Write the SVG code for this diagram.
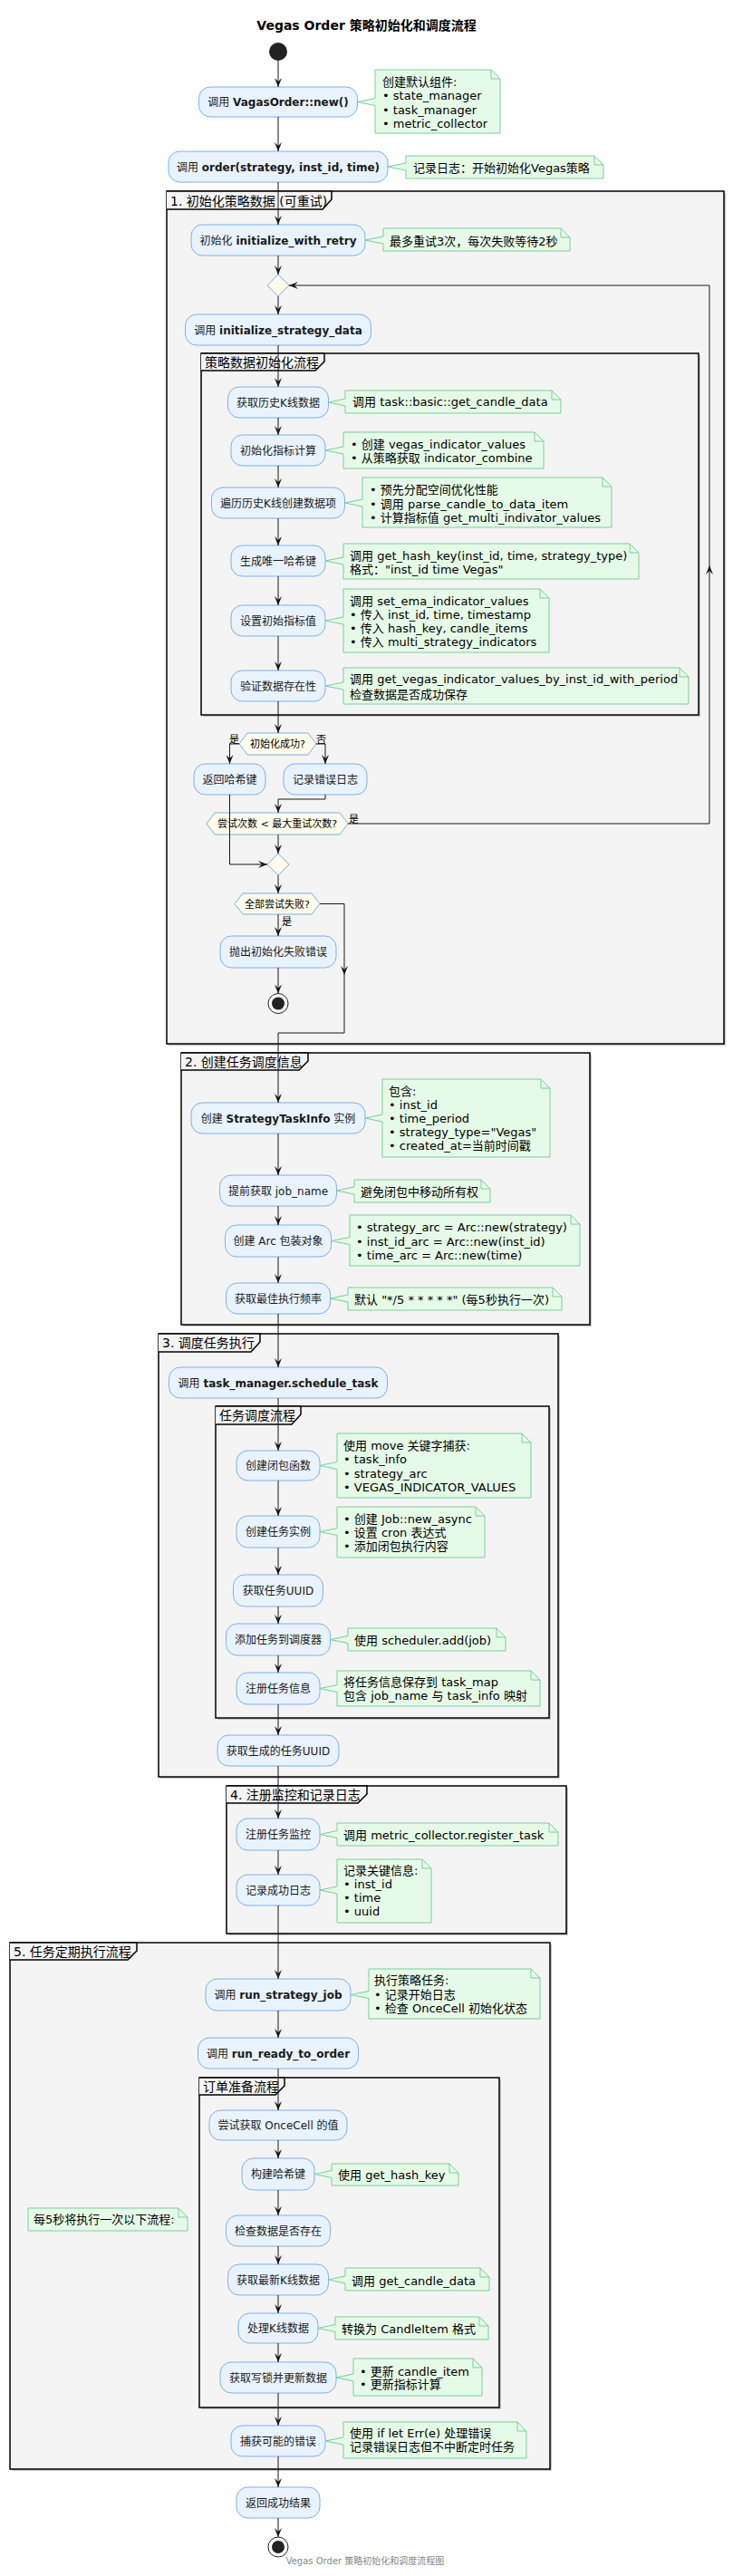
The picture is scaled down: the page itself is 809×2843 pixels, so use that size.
<svg xmlns="http://www.w3.org/2000/svg" width="809" height="2843" viewBox="0 0 809 2843">
<defs>
<style>
text{font-family:"DejaVu Sans","Noto Sans CJK SC",sans-serif;fill:#000}
.title{font-size:14px;font-weight:bold;text-anchor:middle}
.foot{font-size:10px;fill:#888;text-anchor:middle}
.frame{fill:#F4F4F4;stroke:#000;stroke-width:1.5}
.fshadow{fill:#C8C8C8;stroke:none}
.tab{fill:#F4F4F4;stroke:#000;stroke-width:1.5}
.flabel{font-size:14px}
.node{fill:#E8F3FD;stroke:#7EB0EC;stroke-width:1}
.nt{font-size:12px;text-anchor:middle;fill:#1a1a1a}
.note{fill:#E6FBE7;stroke:#7ACF9B;stroke-width:1}
.fold{fill:none;stroke:#7ACF9B;stroke-width:1}
.ntx{font-size:13px}
.dec{fill:#FEFCEA;stroke:#7EB0EC;stroke-width:1}
.dt{font-size:11px;text-anchor:middle}
.lbl{font-size:11px}
.edge{fill:none;stroke:#181818;stroke-width:1}
.ah{fill:#181818}
</style>
<marker id="arr" viewBox="0 0 10 8" refX="10" refY="4" markerWidth="10" markerHeight="8" markerUnits="userSpaceOnUse" orient="auto">
<path d="M0,0 L10,4 L0,8 L4,4 Z" fill="#181818"/>
</marker>
</defs>
<rect width="809" height="2843" fill="#fff"/>
<text class="title" x="404.5" y="33">Vegas Order 策略初始化和调度流程</text>

<g id="frames">
<g id="frame1">
<rect class="fshadow" x="186" y="213" width="615" height="941"/>
<rect class="frame" x="184" y="211" width="615" height="941"/>
<path class="tab" d="M184,211 H366 V220 L356,231 H184"/>
<text class="flabel" x="188" y="226.5">1. 初始化策略数据 (可重试)</text>
</g>
<g id="frame1_inner">
<rect class="fshadow" x="224" y="392" width="549" height="399"/>
<rect class="frame" x="222" y="390" width="549" height="399"/>
<path class="tab" d="M222,390 H358 V399 L348,409 H222"/>
<text class="flabel" x="226" y="404.5">策略数据初始化流程</text>
</g>
<g id="frame2">
<rect class="fshadow" x="202" y="1164" width="451" height="300"/>
<rect class="frame" x="200" y="1162" width="451" height="300"/>
<path class="tab" d="M200,1162 H340 V1171 L330,1181 H200"/>
<text class="flabel" x="204" y="1176.5">2. 创建任务调度信息</text>
</g>
<g id="frame3">
<rect class="fshadow" x="177" y="1474" width="441" height="489"/>
<rect class="frame" x="175" y="1472" width="441" height="489"/>
<path class="tab" d="M175,1472 H287 V1481 L277,1492 H175"/>
<text class="flabel" x="179" y="1487">3. 调度任务执行</text>
</g>
<g id="frame3_inner">
<rect class="fshadow" x="240" y="1554" width="368" height="344"/>
<rect class="frame" x="238" y="1552" width="368" height="344"/>
<path class="tab" d="M238,1552 H332 V1561 L322,1572 H238"/>
<text class="flabel" x="242" y="1567">任务调度流程</text>
</g>
<g id="frame4">
<rect class="fshadow" x="252" y="1973" width="375" height="163"/>
<rect class="frame" x="250" y="1971" width="375" height="163"/>
<path class="tab" d="M250,1971 H405 V1980 L395,1990 H250"/>
<text class="flabel" x="254" y="1985.5">4. 注册监控和记录日志</text>
</g>
<g id="frame5">
<rect class="fshadow" x="13" y="2146" width="596" height="581"/>
<rect class="frame" x="11" y="2144" width="596" height="581"/>
<path class="tab" d="M11,2144 H151 V2153 L141,2163 H11"/>
<text class="flabel" x="15" y="2158.5">5. 任务定期执行流程</text>
</g>
<g id="frame5_inner">
<rect class="fshadow" x="222" y="2295" width="331" height="364"/>
<rect class="frame" x="220" y="2293" width="331" height="364"/>
<path class="tab" d="M220,2293 H314 V2302 L304,2312 H220"/>
<text class="flabel" x="224" y="2307.5">订单准备流程</text>
</g>
</g>

<g id="start"><circle cx="307" cy="57" r="10" fill="#222"/></g>

<g id="nodes">
<g id="A1"><rect class="node" x="219.5" y="96" width="175" height="33" rx="12.5"/><text class="nt" x="307" y="117">调用 <tspan font-weight="bold">VagasOrder::new()</tspan></text></g>
<g id="A2"><rect class="node" x="186" y="167" width="242" height="34" rx="12.5"/><text class="nt" x="307" y="188.5">调用 <tspan font-weight="bold">order(strategy, inst_id, time)</tspan></text></g>
<g id="A3"><rect class="node" x="211" y="248" width="192" height="34" rx="12.5"/><text class="nt" x="307" y="269.5">初始化 <tspan font-weight="bold">initialize_with_retry</tspan></text></g>
<g id="A4"><rect class="node" x="204.5" y="347" width="205" height="34" rx="12.5"/><text class="nt" x="307" y="368.5">调用 <tspan font-weight="bold">initialize_strategy_data</tspan></text></g>
<g id="A5"><rect class="node" x="251.5" y="427" width="111" height="34" rx="12.5"/><text class="nt" x="307" y="448.5">获取历史K线数据</text></g>
<g id="A6"><rect class="node" x="255" y="480" width="104" height="34" rx="12.5"/><text class="nt" x="307" y="501.5">初始化指标计算</text></g>
<g id="A7"><rect class="node" x="233.5" y="538" width="147" height="34" rx="12.5"/><text class="nt" x="307" y="559.5">遍历历史K线创建数据项</text></g>
<g id="A8"><rect class="node" x="255" y="602" width="104" height="34" rx="12.5"/><text class="nt" x="307" y="623.5">生成唯一哈希键</text></g>
<g id="A9"><rect class="node" x="255" y="668" width="104" height="34" rx="12.5"/><text class="nt" x="307" y="689.5">设置初始指标值</text></g>
<g id="A10"><rect class="node" x="255" y="740" width="104" height="34" rx="12.5"/><text class="nt" x="307" y="761.5">验证数据存在性</text></g>
<g id="A11"><rect class="node" x="214" y="843" width="79" height="34" rx="12.5"/><text class="nt" x="253.5" y="864.5">返回哈希键</text></g>
<g id="A12"><rect class="node" x="313" y="843" width="92" height="34" rx="12.5"/><text class="nt" x="359" y="864.5">记录错误日志</text></g>
<g id="A13"><rect class="node" x="243" y="1033" width="128" height="35" rx="12.5"/><text class="nt" x="307" y="1055">抛出初始化失败错误</text></g>
<g id="B1"><rect class="node" x="211" y="1217" width="192" height="34" rx="12.5"/><text class="nt" x="307" y="1238.5">创建 <tspan font-weight="bold">StrategyTaskInfo</tspan> 实例</text></g>
<g id="B2"><rect class="node" x="242.5" y="1297" width="129" height="34" rx="12.5"/><text class="nt" x="307" y="1318.5">提前获取 job_name</text></g>
<g id="B3"><rect class="node" x="248.5" y="1352" width="117" height="35" rx="12.5"/><text class="nt" x="307" y="1374">创建 Arc 包装对象</text></g>
<g id="B4"><rect class="node" x="249.5" y="1416" width="115" height="34" rx="12.5"/><text class="nt" x="307" y="1437.5">获取最佳执行频率</text></g>
<g id="C1"><rect class="node" x="186.5" y="1509" width="241" height="34" rx="12.5"/><text class="nt" x="307" y="1530.5">调用 <tspan font-weight="bold">task_manager.schedule_task</tspan></text></g>
<g id="C2"><rect class="node" x="261" y="1601" width="92" height="33" rx="12.5"/><text class="nt" x="307" y="1622">创建闭包函数</text></g>
<g id="C3"><rect class="node" x="261" y="1673" width="92" height="35" rx="12.5"/><text class="nt" x="307" y="1695">创建任务实例</text></g>
<g id="C4"><rect class="node" x="257.5" y="1738" width="99" height="35" rx="12.5"/><text class="nt" x="307" y="1760">获取任务UUID</text></g>
<g id="C5"><rect class="node" x="249.5" y="1792" width="115" height="35" rx="12.5"/><text class="nt" x="307" y="1814">添加任务到调度器</text></g>
<g id="C6"><rect class="node" x="261" y="1846" width="92" height="35" rx="12.5"/><text class="nt" x="307" y="1868">注册任务信息</text></g>
<g id="C7"><rect class="node" x="240" y="1915" width="134" height="34" rx="12.5"/><text class="nt" x="307" y="1936.5">获取生成的任务UUID</text></g>
<g id="D1"><rect class="node" x="261" y="2007" width="92" height="35" rx="12.5"/><text class="nt" x="307" y="2029">注册任务监控</text></g>
<g id="D2"><rect class="node" x="261" y="2069" width="92" height="34" rx="12.5"/><text class="nt" x="307" y="2090.5">记录成功日志</text></g>
<g id="E1"><rect class="node" x="227" y="2184" width="160" height="35" rx="12.5"/><text class="nt" x="307" y="2206">调用 <tspan font-weight="bold">run_strategy_job</tspan></text></g>
<g id="E2"><rect class="node" x="218.5" y="2249" width="177" height="34" rx="12.5"/><text class="nt" x="307" y="2270.5">调用 <tspan font-weight="bold">run_ready_to_order</tspan></text></g>
<g id="E3"><rect class="node" x="231" y="2329" width="152" height="33" rx="12.5"/><text class="nt" x="307" y="2350">尝试获取 OnceCell 的值</text></g>
<g id="E4"><rect class="node" x="267" y="2382" width="80" height="35" rx="12.5"/><text class="nt" x="307" y="2404">构建哈希键</text></g>
<g id="E5"><rect class="node" x="249.5" y="2445" width="115" height="34" rx="12.5"/><text class="nt" x="307" y="2466.5">检查数据是否存在</text></g>
<g id="E6"><rect class="node" x="251.5" y="2499" width="111" height="34" rx="12.5"/><text class="nt" x="307" y="2520.5">获取最新K线数据</text></g>
<g id="E7"><rect class="node" x="263" y="2553" width="88" height="33" rx="12.5"/><text class="nt" x="307" y="2574">处理K线数据</text></g>
<g id="E8"><rect class="node" x="243" y="2607" width="128" height="34" rx="12.5"/><text class="nt" x="307" y="2628.5">获取写锁并更新数据</text></g>
<g id="E9"><rect class="node" x="255" y="2677" width="104" height="34" rx="12.5"/><text class="nt" x="307" y="2698.5">捕获可能的错误</text></g>
<g id="F1"><rect class="node" x="261" y="2745" width="92" height="34" rx="12.5"/><text class="nt" x="307" y="2766.5">返回成功结果</text></g>
</g>

<g id="decisions">
<g id="M1"><polygon class="dec" points="307,303 319,315 307,327 295,315"/></g>
<g id="H1"><polygon class="dec" points="264,821 273,809 340,809 349,821 340,833 273,833"/><text class="dt" x="306.5" y="825">初始化成功?</text></g>
<g id="H2"><polygon class="dec" points="228,909 237,897 375,897 384,909 375,921 237,921"/><text class="dt" x="306" y="913">尝试次数 &lt; 最大重试次数?</text></g>
<g id="M2"><polygon class="dec" points="307,942 319,954 307,966 295,954"/></g>
<g id="H3"><polygon class="dec" points="259,997.5 268,986 344,986 353,997.5 344,1009 268,1009"/><text class="dt" x="306" y="1001.5">全部尝试失败?</text></g>
</g>

<g id="ends">
<g id="end1"><circle cx="307" cy="1107.5" r="11" fill="#fff" stroke="#222" stroke-width="1"/><circle cx="307" cy="1107.5" r="7" fill="#222"/></g>
<g id="end2"><circle cx="307" cy="2811" r="11" fill="#fff" stroke="#222" stroke-width="1"/><circle cx="307" cy="2811" r="7" fill="#222"/></g>
</g>

<g id="connectors">
<path class="edge" marker-end="url(#arr)" d="M307,67 V96"/>
<path class="edge" marker-end="url(#arr)" d="M307,129 V167"/>
<path class="edge" marker-end="url(#arr)" d="M307,201 V248"/>
<path class="edge" marker-end="url(#arr)" d="M307,282 V303"/>
<path class="edge" marker-end="url(#arr)" d="M384,909 H783 V315 H319"/>
<polygon class="ah" points="779,634 783,624 787,634 783,630"/>
<path class="edge" marker-end="url(#arr)" d="M307,327 V347"/>
<path class="edge" marker-end="url(#arr)" d="M307,381 V427"/>
<path class="edge" marker-end="url(#arr)" d="M307,461 V480"/>
<path class="edge" marker-end="url(#arr)" d="M307,514 V538"/>
<path class="edge" marker-end="url(#arr)" d="M307,572 V602"/>
<path class="edge" marker-end="url(#arr)" d="M307,636 V668"/>
<path class="edge" marker-end="url(#arr)" d="M307,702 V740"/>
<path class="edge" marker-end="url(#arr)" d="M307,774 V809"/>
<path class="edge" marker-end="url(#arr)" d="M264,821 H253.5 V843"/>
<path class="edge" marker-end="url(#arr)" d="M349,821 H359 V843"/>
<path class="edge" marker-end="url(#arr)" d="M359,877 V882 H307 V897"/>
<path class="edge" marker-end="url(#arr)" d="M253.5,877 V954 H295"/>
<path class="edge" marker-end="url(#arr)" d="M307,921 V942"/>
<path class="edge" marker-end="url(#arr)" d="M307,966 V986"/>
<path class="edge" marker-end="url(#arr)" d="M307,1009 V1033"/>
<path class="edge" marker-end="url(#arr)" d="M307,1068 V1096.5"/>
<path class="edge" marker-end="url(#arr)" d="M353,997.5 H380 V1140 H307 V1217"/>
<polygon class="ah" points="376,1066 380,1076 384,1066 380,1070"/>
<path class="edge" marker-end="url(#arr)" d="M307,1251 V1297"/>
<path class="edge" marker-end="url(#arr)" d="M307,1331 V1352"/>
<path class="edge" marker-end="url(#arr)" d="M307,1387 V1416"/>
<path class="edge" marker-end="url(#arr)" d="M307,1450 V1509"/>
<path class="edge" marker-end="url(#arr)" d="M307,1543 V1601"/>
<path class="edge" marker-end="url(#arr)" d="M307,1634 V1673"/>
<path class="edge" marker-end="url(#arr)" d="M307,1708 V1738"/>
<path class="edge" marker-end="url(#arr)" d="M307,1773 V1792"/>
<path class="edge" marker-end="url(#arr)" d="M307,1827 V1846"/>
<path class="edge" marker-end="url(#arr)" d="M307,1881 V1915"/>
<path class="edge" marker-end="url(#arr)" d="M307,1949 V2007"/>
<path class="edge" marker-end="url(#arr)" d="M307,2042 V2069"/>
<path class="edge" marker-end="url(#arr)" d="M307,2103 V2184"/>
<path class="edge" marker-end="url(#arr)" d="M307,2219 V2249"/>
<path class="edge" marker-end="url(#arr)" d="M307,2283 V2329"/>
<path class="edge" marker-end="url(#arr)" d="M307,2362 V2382"/>
<path class="edge" marker-end="url(#arr)" d="M307,2417 V2445"/>
<path class="edge" marker-end="url(#arr)" d="M307,2479 V2499"/>
<path class="edge" marker-end="url(#arr)" d="M307,2533 V2553"/>
<path class="edge" marker-end="url(#arr)" d="M307,2586 V2607"/>
<path class="edge" marker-end="url(#arr)" d="M307,2641 V2677"/>
<path class="edge" marker-end="url(#arr)" d="M307,2711 V2745"/>
<path class="edge" marker-end="url(#arr)" d="M307,2779 V2800"/>
<text class="lbl" x="253" y="820">是</text>
<text class="lbl" x="349" y="820">否</text>
<text class="lbl" x="385" y="908">是</text>
<text class="lbl" x="311" y="1021">是</text>
</g>

<g id="notes">
<g id="N1"><path class="note" d="M414,77 H542 L552,87 V147 H414 V116.5 L394.5,112.5 L414,108.5 Z"/><path class="fold" d="M542,77 V87 H552"/>
<text class="ntx" x="422" y="95">创建默认组件:</text><text class="ntx" x="422" y="110">• state_manager</text><text class="ntx" x="422" y="126">• task_manager</text><text class="ntx" x="422" y="141">• metric_collector</text></g>
<g id="N2"><path class="note" d="M448,172 H656 L666,182 V197 H448 V188 L428,184 L448,180 Z"/><path class="fold" d="M656,172 V182 H666"/>
<text class="ntx" x="456" y="190">记录日志：开始初始化Vegas策略</text></g>
<g id="N3"><path class="note" d="M423,252 H619 L629,262 V277 H423 V269 L403,265 L423,261 Z"/><path class="fold" d="M619,252 V262 H629"/>
<text class="ntx" x="430" y="271">最多重试3次，每次失败等待2秒</text></g>
<g id="N4"><path class="note" d="M381,431 H609 L619,441 V456 H381 V448 L362.5,444 L381,440 Z"/><path class="fold" d="M609,431 V441 H619"/>
<text class="ntx" x="389" y="448">调用 task::basic::get_candle_data</text></g>
<g id="N5"><path class="note" d="M379,477 H590 L600,487 V517 H379 V501 L359,497 L379,493 Z"/><path class="fold" d="M590,477 V487 H600"/>
<text class="ntx" x="387" y="495">• 创建 vegas_indicator_values</text><text class="ntx" x="387" y="510">• 从策略获取 indicator_combine</text></g>
<g id="N6"><path class="note" d="M400,527 H665 L675,537 V582 H400 V559 L380.5,555 L400,551 Z"/><path class="fold" d="M665,527 V537 H675"/>
<text class="ntx" x="408" y="545">• 预先分配空间优化性能</text><text class="ntx" x="408" y="561">• 调用 parse_candle_to_data_item</text><text class="ntx" x="408" y="576">• 计算指标值 get_multi_indivator_values</text></g>
<g id="N7"><path class="note" d="M379,600 H695 L705,610 V639 H379 V623 L359,619 L379,615 Z"/><path class="fold" d="M695,600 V610 H705"/>
<text class="ntx" x="386" y="618">调用 get_hash_key(inst_id, time, strategy_type)</text><text class="ntx" x="386" y="633">格式："inst_id time Vegas"</text></g>
<g id="N8"><path class="note" d="M379,650 H596 L606,660 V720 H379 V689 L359,685 L379,681 Z"/><path class="fold" d="M596,650 V660 H606"/>
<text class="ntx" x="386" y="668">调用 set_ema_indicator_values</text><text class="ntx" x="386" y="683">• 传入 inst_id, time, timestamp</text><text class="ntx" x="386" y="698">• 传入 hash_key, candle_items</text><text class="ntx" x="386" y="713">• 传入 multi_strategy_indicators</text></g>
<g id="N9"><path class="note" d="M379,737 H750 L760,747 V777 H379 V761 L359,757 L379,753 Z"/><path class="fold" d="M750,737 V747 H760"/>
<text class="ntx" x="386" y="754">调用 get_vegas_indicator_values_by_inst_id_with_period</text><text class="ntx" x="386" y="771">检查数据是否成功保存</text></g>
<g id="N10"><path class="note" d="M422,1191 H597 L607,1201 V1277 H422 V1238 L403,1234 L422,1230 Z"/><path class="fold" d="M597,1191 V1201 H607"/>
<text class="ntx" x="429" y="1209">包含:</text><text class="ntx" x="429" y="1224">• inst_id</text><text class="ntx" x="429" y="1239">• time_period</text><text class="ntx" x="429" y="1254">• strategy_type="Vegas"</text><text class="ntx" x="429" y="1269">• created_at=当前时间戳</text></g>
<g id="N11"><path class="note" d="M391,1302 H531 L541,1312 V1327 H391 V1318 L371.5,1314 L391,1310 Z"/><path class="fold" d="M531,1302 V1312 H541"/>
<text class="ntx" x="398" y="1320">避免闭包中移动所有权</text></g>
<g id="N12"><path class="note" d="M386,1341 H630 L640,1351 V1397 H386 V1373.5 L365.5,1369.5 L386,1365.5 Z"/><path class="fold" d="M630,1341 V1351 H640"/>
<text class="ntx" x="393" y="1359">• strategy_arc = Arc::new(strategy)</text><text class="ntx" x="393" y="1375">• inst_id_arc = Arc::new(inst_id)</text><text class="ntx" x="393" y="1390">• time_arc = Arc::new(time)</text></g>
<g id="N13"><path class="note" d="M384,1421 H610 L620,1431 V1446 H384 V1437 L364.5,1433 L384,1429 Z"/><path class="fold" d="M610,1421 V1431 H620"/>
<text class="ntx" x="391" y="1439">默认 "*/5 * * * * *" (每5秒执行一次)</text></g>
<g id="N14"><path class="note" d="M372,1582 H576 L586,1592 V1653 H372 V1621.5 L353,1617.5 L372,1613.5 Z"/><path class="fold" d="M576,1582 V1592 H586"/>
<text class="ntx" x="379" y="1600">使用 move 关键字捕获:</text><text class="ntx" x="379" y="1615">• task_info</text><text class="ntx" x="379" y="1631">• strategy_arc</text><text class="ntx" x="379" y="1646">• VEGAS_INDICATOR_VALUES</text></g>
<g id="N15"><path class="note" d="M372,1663 H525 L535,1673 V1719 H372 V1694.5 L353,1690.5 L372,1686.5 Z"/><path class="fold" d="M525,1663 V1673 H535"/>
<text class="ntx" x="379" y="1681">• 创建 Job::new_async</text><text class="ntx" x="379" y="1696">• 设置 cron 表达式</text><text class="ntx" x="379" y="1711">• 添加闭包执行内容</text></g>
<g id="N16"><path class="note" d="M384,1797 H548 L558,1807 V1822 H384 V1813.5 L364.5,1809.5 L384,1805.5 Z"/><path class="fold" d="M548,1797 V1807 H558"/>
<text class="ntx" x="391" y="1815">使用 scheduler.add(job)</text></g>
<g id="N17"><path class="note" d="M372,1844 H586 L596,1854 V1883 H372 V1867.5 L353,1863.5 L372,1859.5 Z"/><path class="fold" d="M586,1844 V1854 H596"/>
<text class="ntx" x="379" y="1861">将任务信息保存到 task_map</text><text class="ntx" x="379" y="1876">包含 job_name 与 task_info 映射</text></g>
<g id="N18"><path class="note" d="M372,2012 H606 L616,2022 V2037 H372 V2028.5 L353,2024.5 L372,2020.5 Z"/><path class="fold" d="M606,2012 V2022 H616"/>
<text class="ntx" x="379" y="2030">调用 metric_collector.register_task</text></g>
<g id="N19"><path class="note" d="M372,2052 H466 L476,2062 V2122 H372 V2090 L353,2086 L372,2082 Z"/><path class="fold" d="M466,2052 V2062 H476"/>
<text class="ntx" x="379" y="2069">记录关键信息:</text><text class="ntx" x="379" y="2084">• inst_id</text><text class="ntx" x="379" y="2099">• time</text><text class="ntx" x="379" y="2114">• uuid</text></g>
<g id="N20"><path class="note" d="M407,2173 H586 L596,2183 V2228 H407 V2205.5 L387,2201.5 L407,2197.5 Z"/><path class="fold" d="M586,2173 V2183 H596"/>
<text class="ntx" x="413" y="2190">执行策略任务:</text><text class="ntx" x="413" y="2206">• 记录开始日志</text><text class="ntx" x="413" y="2221">• 检查 OnceCell 初始化状态</text></g>
<g id="N21"><path class="note" d="M366,2388 H496 L506,2398 V2412 H366 V2403.5 L347,2399.5 L366,2395.5 Z"/><path class="fold" d="M496,2388 V2398 H506"/>
<text class="ntx" x="373" y="2405">使用 get_hash_key</text></g>
<g id="N26"><path class="note" d="M31,2437 H197 L207,2447 V2462 H31 Z"/><path class="fold" d="M197,2437 V2447 H207"/>
<text class="ntx" x="37" y="2454">每5秒将执行一次以下流程:</text></g>
<g id="N22"><path class="note" d="M381,2503 H530 L540,2513 V2528 H381 V2520 L362.5,2516 L381,2512 Z"/><path class="fold" d="M530,2503 V2513 H540"/>
<text class="ntx" x="388" y="2522">调用 get_candle_data</text></g>
<g id="N23"><path class="note" d="M370,2557 H529 L539,2567 V2582 H370 V2573.5 L351,2569.5 L370,2565.5 Z"/><path class="fold" d="M529,2557 V2567 H539"/>
<text class="ntx" x="377" y="2575">转换为 CandleItem 格式</text></g>
<g id="N24"><path class="note" d="M390,2603 H522 L532,2613 V2644 H390 V2628 L371,2624 L390,2620 Z"/><path class="fold" d="M522,2603 V2613 H532"/>
<text class="ntx" x="397" y="2622">• 更新 candle_item</text><text class="ntx" x="397" y="2636">• 更新指标计算</text></g>
<g id="N25"><path class="note" d="M379,2673 H571 L581,2683 V2713 H379 V2698 L359,2694 L379,2690 Z"/><path class="fold" d="M571,2673 V2683 H581"/>
<text class="ntx" x="386" y="2690">使用 if let Err(e) 处理错误</text><text class="ntx" x="386" y="2705">记录错误日志但不中断定时任务</text></g>
</g>

<text class="foot" x="403" y="2830">Vegas Order 策略初始化和调度流程图</text>
</svg>
